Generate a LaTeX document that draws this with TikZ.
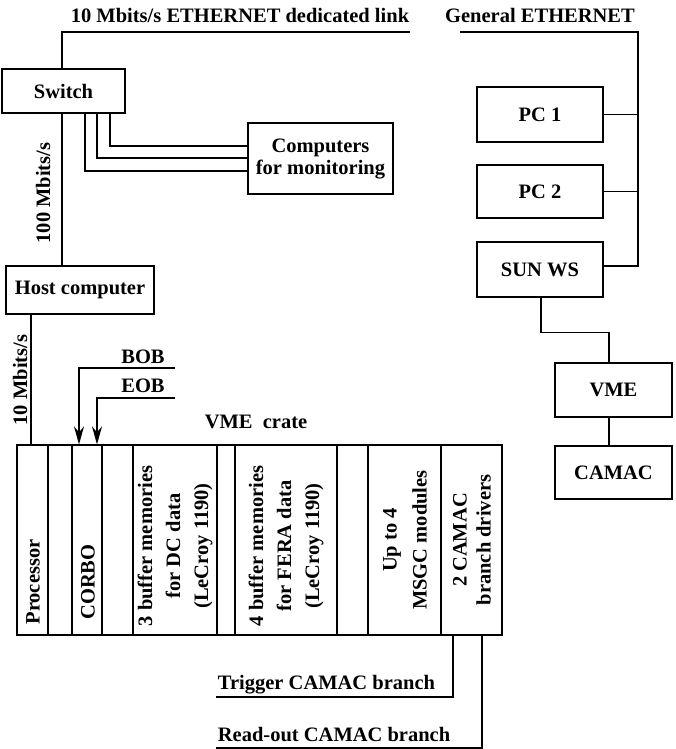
\documentclass[tikz,border=0pt]{standalone}
\usepackage{fontspec}
\setmainfont{Liberation Serif}
\usepackage{tikz}
\usetikzlibrary{positioning}
\usetikzlibrary{calc}
\usetikzlibrary{arrows.meta}
\tikzset{every picture/.style={line width=1.2pt},every node/.style={font=\fontsize{20.5}{28}\selectfont\bfseries}}

\begin{document}
\begin{tikzpicture}[x=1pt,y=-1pt,bx/.style={draw,inner sep=0pt},col/.style={rotate=90,align=center,inner sep=0pt},tip/.style={-{Stealth[length=18pt,width=10pt]}}]
\useasboundingbox (0,0) rectangle (676,749);
\node (switch) at (63.5,91) [bx,minimum width=123pt,minimum height=44pt] {Switch};
\node (mon) at (320.5,158.5) [bx,minimum width=145pt,minimum height=71pt,align=center,font=\fontsize{20.5}{22}\selectfont\bfseries] {Computers\\for monitoring};
\node (host) at (80,290) [bx,minimum width=148pt,minimum height=48pt] {Host computer};
\node (pc1) at (540,114.5) [bx,minimum width=126pt,minimum height=55pt] {PC 1};
\node (pc2) at (540,191.5) [bx,minimum width=126pt,minimum height=53pt] {PC 2};
\node (sun) at (540,269.5) [bx,minimum width=126pt,minimum height=55pt] {SUN WS};
\node (vme) at (613.5,390) [bx,minimum width=117pt,minimum height=54pt] {VME};
\node (camac) at (613.5,472.5) [bx,minimum width=117pt,minimum height=53pt] {CAMAC};
\node (crate) at (259.5,540) [bx,minimum width=485pt,minimum height=190pt] {};
\foreach \x in {48,72,102,133,217,235,337,368,441} {
\draw (crate.north -| \x,0) -- (crate.south -| \x,0);
}
\node (proc) at (33,582) [col] {Processor};
\node (corbo) at (88,582) [col] {CORBO};
\node (dcbuf) at (175,546) [col] {3 buffer memories\\for DC data\\(LeCroy 1190)};
\node (ferabuf) at (286,546) [col] {4 buffer memories\\for FERA data\\(LeCroy 1190)};
\node (msgc) at (405,540) [col,font=\fontsize{20.5}{30}\selectfont\bfseries] {Up to 4\\MSGC modules};
\node (drv) at (472,540) [col,font=\fontsize{20.5}{24}\selectfont\bfseries] {2 CAMAC\\branch drivers};
\node (dlink) at (240,15) {10 Mbits/s ETHERNET dedicated link};
\node (gen) at (540,15) {General ETHERNET};
\node (r100) at (43,193) [rotate=90] {100 Mbits/s};
\node (r10) at (20,380) [rotate=90] {10 Mbits/s};
\node (bob) at (143,357) {BOB};
\node (eob) at (143,386) {EOB};
\node (vmec) at (256,422) {VME\ \ crate};
\node (trig) at (214,685) [anchor=west] {Trigger CAMAC branch};
\node (read) at (214,735) [anchor=west] {Read-out CAMAC branch};
\coordinate (dl) at (410,32);
\coordinate (ge) at (460,32);
\coordinate (bus) at (638,266);
\coordinate (bobin) at (175,368);
\coordinate (eobin) at (175,398);
\coordinate (trigend) at (216,697);
\coordinate (readend) at (216,748);
\draw (switch.north -| 62,0) |- (dl);
\draw (ge) -| (bus) -- (bus -| sun.east);
\foreach \n in {pc1,pc2} {
\draw (\n.east) -- (\n.east -| bus);
}
\draw (switch.south -| 62,0) -- (host.north -| 62,0);
\foreach \x/\y in {85/171,97/158,110/146} {
\draw (switch.south -| \x,0) |- (mon.west |- 0,\y);
}
\draw (host.south -| 31,0) -- (crate.north -| 31,0);
\draw[tip] (bobin) -| (crate.north -| 79,0);
\draw[tip] (eobin) -| (crate.north -| 97,0);
\draw (sun.south -| 541,0) -- ++(0,35) -| (vme.north -| 609,0);
\draw (vme.south -| 609,0) -- (camac.north -| 609,0);
\draw (crate.south -| 453,0) |- (trigend);
\draw (crate.south -| 482,0) |- (readend);
\end{tikzpicture}
\end{document}
